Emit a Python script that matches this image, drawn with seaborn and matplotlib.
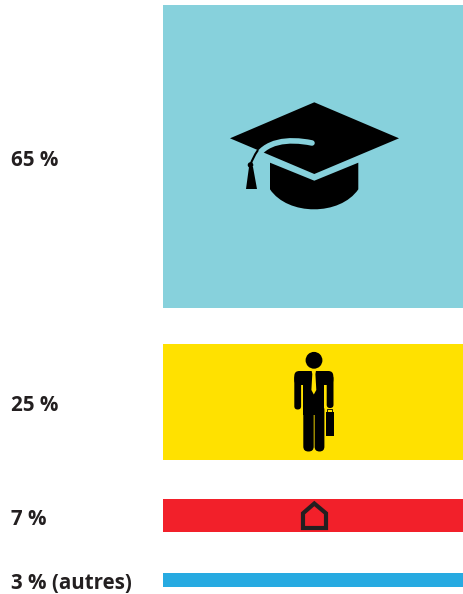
import matplotlib
matplotlib.use("Agg")
import matplotlib.pyplot as plt
from matplotlib.patches import Circle, FancyBboxPatch, PathPatch, Polygon
from matplotlib.path import Path
from matplotlib.transforms import blended_transform_factory
import seaborn as sns

# Share of each category, in percent, from the top block to the bottom one
shares = [65, 25, 7, 3]
labels = ["65 %", "25 %", "7 %", "3 % (autres)"]
colors = ["#87d1dc", "#ffe100", "#f2202a", "#27aae1"]
label_shift_px = [4.5, 4, 4.5, 3.5]

# White space left under each block, in the same unit as the shares
spacing = [7.66, 8.3, 8.9, 0]

W, H, DPI = 464, 594, 100
sns.set_theme(style="white")
plt.rcParams["font.family"] = ["Open Sans", "DejaVu Sans"]

fig = plt.figure(figsize=(W / DPI, H / DPI), dpi=DPI, facecolor="white")
PX_PER_UNIT = 303 / 65
total = sum(shares) + sum(spacing)
top_px = 5
ax = fig.add_axes([163 / W, 1 - (top_px + total * PX_PER_UNIT) / H, 303 / W, total * PX_PER_UNIT / H])

# Blocks are stacked downwards with a gap between them
offset = 0
centres = []
for name, share, col, gap in zip(labels, shares, colors, spacing):
    sns.barplot(x=[0], y=[share], bottom=offset, color=col, saturation=1, width=1,
                linewidth=0, native_scale=True, ax=ax)
    centres.append(offset + share / 2)
    offset += share + gap

ax.set_xlim(-0.5, 0.5)
ax.set_ylim(total, 0)
ax.axis("off")

# Category labels sit in the left margin, level with their block
trans = blended_transform_factory(fig.transFigure, ax.transData)
for name, c, shift in zip(labels, centres, label_shift_px):
    ax.annotate(name, xy=(11 / W, c), xycoords=trans, xytext=(0, -shift * 72 / DPI),
                textcoords="offset points", ha="left", va="center",
                fontsize=14.8, fontweight="bold", color="#231f20", annotation_clip=False)

# Pictograms are drawn on a pixel-sized overlay
icons = fig.add_axes([0, 0, 1, 1], facecolor="none")
icons.set_xlim(0, W)
icons.set_ylim(H, 0)
icons.axis("off")
teal, yellow, red = colors[:3]
ink = "#000000"

# Graduation cap
icons.add_patch(Polygon([(230, 138.3), (314.3, 102.3), (399, 138.3), (314.3, 174)], fc=ink, ec="none"))
base = Path(
    [(270, 162.7), (314.3, 180.7), (358.3, 162.7), (358.3, 189.3), (340, 216), (288, 216), (270, 189.3), (270, 162.7)],
    [Path.MOVETO, Path.LINETO, Path.LINETO, Path.LINETO, Path.CURVE4, Path.CURVE4, Path.CURVE4, Path.CLOSEPOLY],
)
icons.add_patch(PathPatch(base, fc=ink, ec="none"))
cord = Path([(312, 143), (288, 138), (264, 141), (255, 160)], [Path.MOVETO, Path.CURVE4, Path.CURVE4, Path.CURVE4])
icons.add_patch(PathPatch(cord, fc="none", ec=teal, lw=4, capstyle="round"))
hanger = Path([(258, 150), (254, 156), (252, 160), (250.5, 165)], [Path.MOVETO, Path.CURVE4, Path.CURVE4, Path.CURVE4])
icons.add_patch(PathPatch(hanger, fc="none", ec=ink, lw=1.5))
icons.add_patch(Circle((250.5, 165), 2.8, fc=ink, ec="none"))
icons.add_patch(Polygon([(249, 167), (246, 189), (257, 189), (253, 167)], fc=ink, ec="none"))

# Man with a briefcase
icons.add_patch(Circle((314, 360.3), 8.4, fc=ink, ec="none"))
icons.add_patch(FancyBboxPatch((294.3, 371), 39, 14, boxstyle="round,pad=0,rounding_size=5", fc=ink, ec="none"))
icons.add_patch(FancyBboxPatch((294.3, 375), 6.8, 34.5, boxstyle="round,pad=0,rounding_size=3.3", fc=ink, ec="none"))
icons.add_patch(FancyBboxPatch((326.7, 375), 6.8, 33, boxstyle="round,pad=0,rounding_size=3.3", fc=ink, ec="none"))
icons.add_patch(Polygon([(303.3, 375), (324.3, 375), (324.3, 415), (303.3, 415)], fc=ink, ec="none"))
icons.add_patch(FancyBboxPatch((303.3, 405), 10.4, 46.5, boxstyle="round,pad=0,rounding_size=5", fc=ink, ec="none"))
icons.add_patch(FancyBboxPatch((314.6, 405), 9.8, 46.5, boxstyle="round,pad=0,rounding_size=4.9", fc=ink, ec="none"))
icons.add_patch(Polygon([(311.6, 370.7), (316, 370.7), (315.4, 374), (316.3, 390), (313.8, 394.5), (311.4, 390), (312.3, 374)], fc=yellow, ec="none"))
icons.add_patch(Polygon([(326, 411.7), (334, 411.7), (334, 436), (326, 436)], fc=ink, ec="none"))
icons.add_patch(Polygon([(327.5, 409.4), (332.5, 409.4), (332.5, 412), (327.5, 412)], fc="none", ec=ink, lw=0.6))

# House outline
icons.add_patch(Polygon([(314.3, 503.5), (326, 513.3), (326, 528), (303, 528), (303, 513.3)],
                        fc=red, ec="#231f20", lw=3, joinstyle="miter"))

fig.savefig("out.png", dpi=DPI, facecolor="white")
